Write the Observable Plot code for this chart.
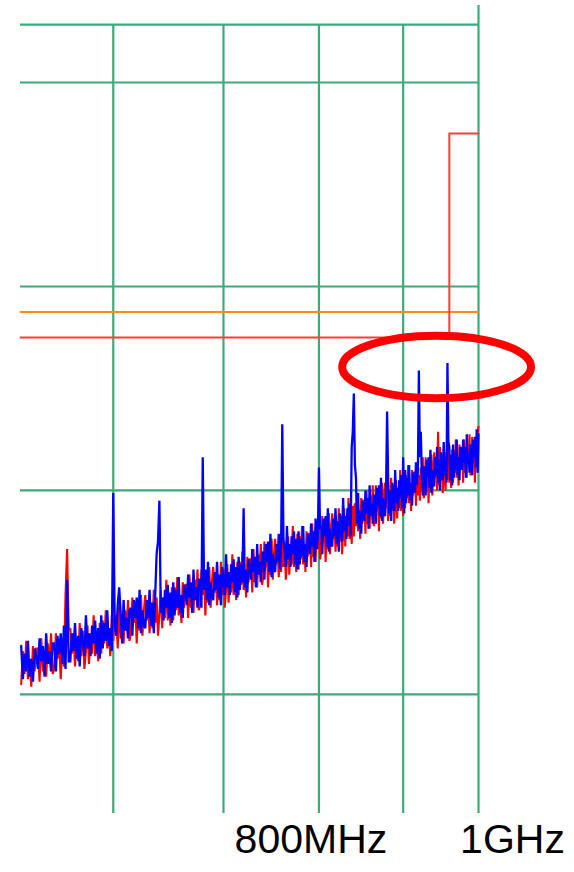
<!DOCTYPE html>
<html>
<head>
<meta charset="utf-8">
<script src="https://cdn.jsdelivr.net/npm/d3@7"></script>
<script src="https://cdn.jsdelivr.net/npm/@observablehq/plot@0.6"></script>
<style>
  html, body { margin: 0; padding: 0; background: #fff; }
  #chart svg { display: block; }
</style>
</head>
<body>
<div id="chart"></div>
<script>
// ---- Sweep (spectrum analyzer sampling grid, MHz) ----
const sweepStart = 527.5;
const sweepStep = 1.25;

const blueLevels = [
  33.9,32.6,33.6,32.9,34.1,32.7,33.4,32.5,33.8,33.5,
  33.0,34.2,33.3,33.9,32.7,34.4,33.2,33.7,32.9,34.0,
  34.0,32.9,34.3,33.6,34.4,33.2,34.7,33.0,36.5,33.3,
  33.3,34.4,33.7,34.8,33.4,34.3,33.1,34.6,34.1,33.5,
  35.1,33.8,34.4,33.5,34.7,34.0,34.9,33.6,34.6,33.4,
  35.1,33.8,34.8,34.1,35.3,33.9,34.6,33.7,39.9,34.7,
  34.3,35.5,36.2,35.2,34.0,35.7,34.5,35.0,34.2,35.3,
  35.4,34.3,35.7,35.0,35.8,34.6,36.1,34.4,35.3,34.7,
  34.6,35.7,35.0,36.1,34.7,35.6,34.4,35.9,37.5,38.0,
  39.6,35.2,35.8,34.9,36.1,35.4,36.3,35.0,36.0,34.8,
  36.4,35.1,36.1,35.4,36.6,35.2,35.9,35.0,36.3,36.0,
  35.5,36.7,35.8,36.4,35.2,36.9,35.7,36.2,35.4,36.5,
  36.5,35.4,41.3,36.1,36.9,35.7,37.2,35.5,36.4,35.8,
  35.7,36.8,36.1,37.2,35.8,36.7,35.5,37.0,36.5,35.9,
  37.5,36.2,36.8,35.9,37.1,36.4,37.3,36.0,37.0,35.8,
  37.4,36.1,37.1,36.4,39.3,36.2,36.9,36.0,37.3,37.0,
  36.5,37.7,36.8,37.4,36.2,37.9,36.7,37.2,36.4,37.5,
  37.6,36.5,37.9,37.2,38.0,36.8,38.3,36.6,37.5,36.9,
  36.8,37.9,37.2,38.3,36.9,37.8,42.6,38.1,37.6,37.0,
  38.6,37.3,37.9,37.0,38.2,37.5,38.4,37.1,38.1,36.9,
  38.4,37.1,38.1,37.4,38.6,37.2,37.9,37.0,38.3,38.0,
  37.5,38.7,37.8,38.4,37.2,38.9,37.7,38.2,40.9,38.5,
  38.6,37.5,38.9,38.2,39.0,37.8,39.3,37.6,38.5,37.9,
  37.8,38.9,38.2,39.3,37.9,38.8,37.6,39.1,38.6,38.0,
  39.7,38.4,39.0,38.1,39.3,38.6,39.5,38.2,41.7,42.3,
  43.8,41.0,40.5,38.7,39.9,38.5,39.2,38.3,39.6,39.3,
  38.8,40.0,39.1,39.7,38.5,40.2,39.0,39.5,38.7,39.8,
  39.8,38.7,40.1,39.4,40.2,39.0,40.5,38.8,39.7,39.1,
  39.0,40.1,43.1,40.5,39.1,40.0,38.8,40.3,39.8,39.2,
  40.8,39.5,40.1,39.2,40.4,39.7,40.6,39.3,41.3,39.1,
  40.8,39.5,40.5,39.8,41.0,39.6,40.3,39.4,40.7,40.4,
  39.9,41.1,40.2,40.8,44.7,41.3,42.3,40.6,39.8,40.9,
  40.9,39.8,41.2,40.5,41.3,40.1,41.6,39.9,40.8,40.2,
  40.2,41.3,40.6,41.7,40.3,41.2,40.0,41.5,41.0,40.4,
  41.9,40.6,41.2,40.3,45.0,41.9,41.7,40.4,41.4,40.2,
  41.8,40.5,41.5,40.8,42.0,40.6,41.3,40.4,41.7,41.4,
  40.8,42.0,41.1,41.7,40.5,42.2,41.0,41.5,40.7,41.8,
  41.7,40.6,42.0,41.3,42.1,40.9,42.4,40.7,42.2
];
const redLevels = [
  32.4,33.7,32.8,34.1,32.6,33.4,32.3,33.9,32.9,33.8,
  33.8,32.5,34.2,32.9,33.7,32.7,34.0,33.2,34.4,32.8,
  33.0,34.4,33.4,34.1,32.6,34.0,33.1,35.9,37.7,34.5,
  34.6,33.6,34.4,33.1,34.1,33.3,34.8,33.5,34.5,33.0,
  33.7,34.7,33.2,34.4,33.6,35.1,33.5,34.3,33.3,34.8,
  33.6,34.9,34.0,35.3,33.8,34.6,33.5,35.1,34.1,35.0,
  35.1,33.8,35.5,34.2,35.0,34.0,35.3,34.5,35.7,34.1,
  34.4,35.8,34.8,35.5,34.0,35.4,34.5,35.9,34.3,35.3,
  35.9,34.9,35.7,34.4,35.4,34.6,36.1,34.8,35.8,34.3,
  35.1,36.1,34.6,35.8,35.0,36.5,34.9,35.7,34.7,36.2,
  34.9,36.2,35.3,36.6,35.1,35.9,34.8,36.4,35.4,36.3,
  36.3,35.0,36.7,35.4,36.2,35.2,36.5,35.7,36.9,35.3,
  35.5,36.9,35.9,36.6,35.1,36.5,35.6,37.0,35.4,36.4,
  37.0,36.0,36.8,35.5,36.5,35.7,37.2,35.9,36.9,35.4,
  36.1,37.1,35.6,36.8,36.0,37.5,35.9,36.7,35.7,37.2,
  35.9,37.2,36.3,37.6,36.1,36.9,35.8,37.4,36.4,37.3,
  37.3,36.0,37.7,36.4,37.2,36.2,37.5,36.7,37.9,36.3,
  36.6,38.0,37.0,37.7,36.2,37.6,36.7,38.1,36.5,37.5,
  38.1,37.1,37.9,36.6,37.6,36.8,38.3,37.0,38.0,36.5,
  37.2,38.2,36.7,37.9,37.1,38.6,37.0,37.8,36.8,38.3,
  36.9,38.2,37.3,38.6,37.1,37.9,36.8,38.4,37.4,38.3,
  38.3,37.0,38.7,37.4,38.2,37.2,38.5,37.7,38.9,37.3,
  37.6,39.0,38.0,38.7,37.2,38.6,37.7,39.1,37.5,38.5,
  39.1,38.1,38.9,37.6,38.6,37.8,39.3,38.0,39.0,37.5,
  38.3,39.3,37.8,39.0,38.2,39.7,38.1,38.9,37.9,39.4,
  38.2,39.5,38.6,39.9,38.4,39.2,38.1,39.7,38.7,39.6,
  39.6,38.3,40.0,38.7,39.5,38.5,39.8,39.0,40.2,38.6,
  38.8,40.2,39.2,39.9,38.4,39.8,38.9,40.3,38.7,39.7,
  40.3,39.3,40.1,38.8,39.8,39.0,40.5,39.2,40.2,38.7,
  39.4,40.4,38.9,40.1,39.3,40.8,39.2,40.0,39.0,40.5,
  39.3,40.6,39.7,41.0,39.5,40.3,39.2,40.8,39.8,40.7,
  40.7,39.4,41.1,39.8,40.6,39.6,40.9,40.1,41.3,39.7,
  39.9,41.3,40.3,41.0,39.5,40.9,40.0,41.4,39.8,40.8,
  41.5,40.5,41.3,40.0,42.3,40.2,41.7,40.4,41.4,39.9,
  40.5,41.5,40.0,41.2,40.4,41.9,40.3,41.1,40.1,41.6,
  40.3,41.6,40.7,42.0,40.5,41.3,40.2,41.8,40.8,41.7,
  41.6,40.3,42.0,40.7,41.5,40.5,41.8,41.0,42.2,40.6,
  40.7,42.1,41.1,41.8,40.3,41.7,41.2,42.2,42.5
];

// ---- Limits ----
const limitFcc = [ {f: 527, db: 46}, {f: 960, db: 46}, {f: 960, db: 54}, {f: 1000, db: 54} ];
const limitCispr = [ {f: 527, db: 47}, {f: 1000, db: 47} ];

// ---- Grid & axis ----
const gridFreqs = [600, 700, 800, 900];
const frameFreq = 1000;
const gridLevels = [58.27, 56, 48, 40, 32];
const tickValues = [800, 1000];
const tickLabels = ["800MHz", "1GHz"];

// ---- Annotation ellipse bounding box (data units) ----
const ellipseBox = { f0: 827, f1: 1077, dbTop: 46.05, dbBottom: 43.6 };

const fMin = 527, fMax = 1000, dbMin = 27.33, dbMax = 59.02;

const blue = blueLevels.map((db, i) => ({ f: sweepStart + i * sweepStep, db }));
const red = redLevels.map((db, i) => ({ f: sweepStart + i * sweepStep, db }));
const ticks = tickValues.map((f, i) => ({ f, label: tickLabels[i] }));

const green = "#3daa7a";

const chart = Plot.plot({
  width: 574,
  height: 872,
  marginLeft: 20,
  marginRight: 96,
  marginTop: 5,
  marginBottom: 59,
  x: { type: "log", domain: [fMin, fMax], axis: null },
  y: { domain: [dbMin, dbMax], axis: null },
  style: { background: "white", fontFamily: "'Liberation Sans', Arial, sans-serif" },
  marks: [
    Plot.ruleY(gridLevels, { y: d => d, x1: fMin, x2: fMax, stroke: green, strokeWidth: 2.2 }),
    Plot.ruleX(gridFreqs, { x: d => d, y1: dbMin, y2: gridLevels[0], stroke: green, strokeWidth: 2.2 }),
    Plot.ruleX([frameFreq], { x: d => d, y1: dbMin, y2: dbMax, stroke: green, strokeWidth: 2.2 }),
    Plot.line(limitCispr, { x: "f", y: "db", stroke: "#ff8a1c", strokeWidth: 2 }),
    Plot.line(limitFcc, { x: "f", y: "db", stroke: "#ff3b3b", strokeWidth: 2 }),
    Plot.line(red, { x: "f", y: "db", curve: "linear", stroke: "#ff0000", strokeWidth: 2.1, strokeLinejoin: "miter", strokeMiterlimit: 2 }),
    Plot.line(blue, { x: "f", y: "db", curve: "linear", stroke: "#0000ff", strokeWidth: 2.3, strokeLinejoin: "miter", strokeMiterlimit: 2 }),
    Plot.text(ticks.filter(d => d.f === 800), { x: "f", text: "label", frameAnchor: "bottom", dy: 39, dx: -8, fontSize: 41, fill: "#000" }),
    Plot.text(ticks.filter(d => d.f === 1000), { x: "f", text: "label", frameAnchor: "bottom", dy: 39, dx: 34, fontSize: 41, fill: "#000" })
  ]
});

document.getElementById("chart").appendChild(chart);

// Red annotation ellipse, positioned through the plot's own scales
const sx = chart.scale("x"), sy = chart.scale("y");
const ex0 = sx.apply(ellipseBox.f0), ex1 = sx.apply(ellipseBox.f1);
const ey0 = sy.apply(ellipseBox.dbTop), ey1 = sy.apply(ellipseBox.dbBottom);
d3.select(chart).append("ellipse")
  .attr("cx", (ex0 + ex1) / 2)
  .attr("cy", (ey0 + ey1) / 2)
  .attr("rx", (ex1 - ex0) / 2)
  .attr("ry", (ey1 - ey0) / 2)
  .attr("fill", "none")
  .attr("stroke", "#ff0000")
  .attr("stroke-width", 8);
</script>
</body>
</html>
